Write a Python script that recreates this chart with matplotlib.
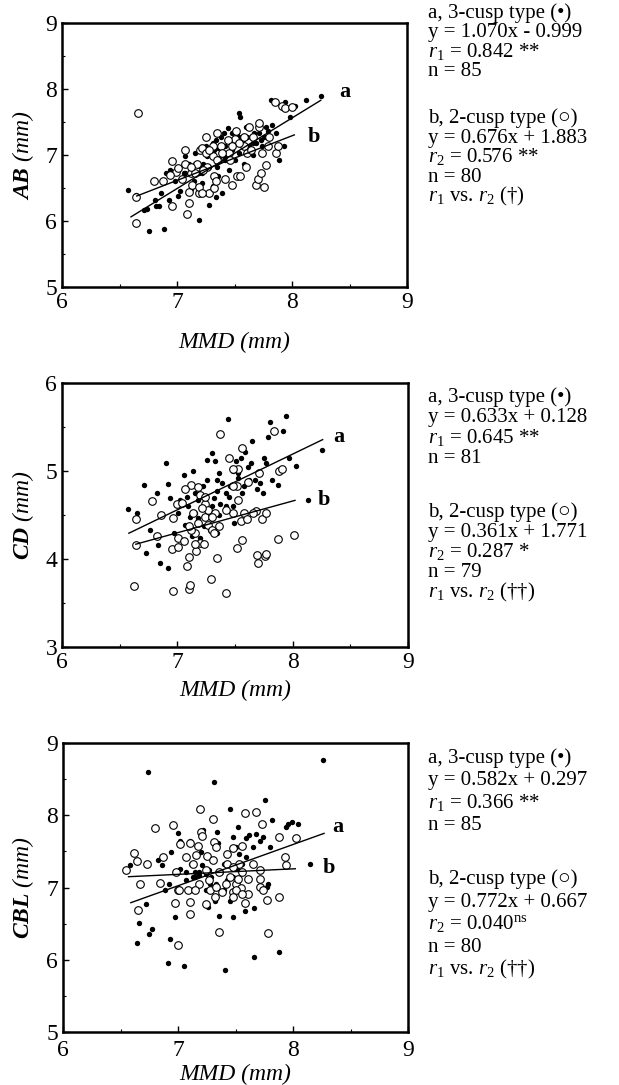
import matplotlib
matplotlib.use("Agg")
import matplotlib.pyplot as plt
import numpy as np

plt.rcParams['font.family'] = ['Liberation Serif', 'DejaVu Serif']
plt.rcParams['mathtext.fontset'] = 'custom'
plt.rcParams['mathtext.rm'] = 'Liberation Serif'
plt.rcParams['mathtext.it'] = 'Liberation Serif:italic'
plt.rcParams['mathtext.bf'] = 'Liberation Serif:italic:bold'

# ---- data (MMD on x) ----
# panel 1: AB
ab_solid_x = [6.57, 6.64, 6.71, 6.74, 6.76, 6.81, 6.82, 6.84, 6.86, 6.89, 6.90, 6.93, 6.94, 6.98, 7.01,
              7.03, 7.06, 7.10, 7.12, 7.13, 7.16, 7.19, 7.20, 7.22, 7.22, 7.23, 7.26, 7.28, 7.31, 7.32,
              7.34, 7.35, 7.36, 7.39, 7.41, 7.42, 7.44, 7.45, 7.47, 7.48, 7.50, 7.51, 7.52, 7.54, 7.55,
              7.54, 7.57, 7.58, 7.60, 7.61, 7.63, 7.64, 7.66, 7.67, 7.69, 7.71, 7.74, 7.76, 7.77, 7.79,
              7.82, 7.83, 7.86, 7.89, 7.93, 7.94, 7.98, 8.03, 8.12, 8.25, 7.36, 7.19, 7.07, 7.28, 7.42,
              7.48, 7.58, 7.34, 7.25, 7.16, 7.31, 7.19, 7.41, 7.54, 7.66, 7.73, 7.07, 7.15, 7.38]
ab_solid_y = [6.47, 6.40, 6.17, 6.18, 5.85, 6.32, 6.22, 6.22, 6.43, 5.88, 6.73, 6.32, 6.78, 6.60, 6.38,
              6.45, 6.72, 6.87, 6.48, 6.78, 6.87, 6.02, 6.42, 6.58, 6.73, 6.87, 6.98, 6.24, 6.53, 7.08,
              6.37, 6.82, 7.11, 6.42, 6.98, 7.13, 7.41, 6.78, 7.23, 7.08, 6.93, 7.18, 7.33, 7.63, 7.58,
              7.03, 7.23, 6.87, 7.43, 7.28, 7.13, 7.28, 7.00, 7.33, 7.18, 7.33, 7.13, 7.28, 7.43, 7.36,
              7.84, 7.46, 7.33, 6.93, 7.13, 7.81, 7.58, 7.74, 7.84, 7.89, 6.68, 6.73, 6.98, 6.82, 6.92,
              7.33, 7.13, 7.23, 7.13, 7.03, 7.18, 6.83, 7.33, 7.28, 7.18, 7.23, 6.73, 6.60, 7.28]
ab_open_x = [6.66, 6.64, 6.64, 6.80, 6.88, 6.96, 6.96, 6.99, 7.01, 7.09, 7.10, 7.12, 7.13, 7.17, 7.19,
             7.20, 7.22, 7.25, 7.26, 7.28, 7.32, 7.32, 7.34, 7.35, 7.36, 7.38, 7.42, 7.45, 7.48, 7.50,
             7.51, 7.52, 7.55, 7.58, 7.61, 7.63, 7.69, 7.70, 7.71, 7.71, 7.73, 7.76, 7.77, 7.80, 7.85,
             7.86, 7.88, 7.91, 7.94, 8.00, 7.16, 7.23, 7.31, 7.39, 7.46, 7.54, 7.66, 7.07, 7.04, 7.19,
             7.44, 7.60, 7.31, 7.12, 7.28, 7.64, 7.79, 6.94, 7.07, 7.48, 7.22, 7.35, 7.58, 7.74, 7.25,
             7.10]
ab_open_y = [7.63, 5.97, 6.36, 6.60, 6.61, 6.91, 6.22, 6.75, 6.81, 6.11, 6.44, 6.73, 6.55, 6.87, 6.42,
             7.08, 7.11, 7.03, 6.82, 6.42, 6.68, 6.50, 6.60, 7.33, 6.92, 7.13, 6.63, 7.03, 6.55, 7.25,
             7.36, 6.68, 6.68, 7.13, 7.03, 7.43, 6.55, 6.63, 7.43, 7.48, 6.73, 6.52, 6.85, 7.28, 7.81,
             7.03, 7.13, 7.74, 7.71, 7.72, 6.73, 6.78, 6.98, 7.03, 6.93, 7.18, 7.28, 6.87, 6.63, 6.52,
             7.23, 6.82, 7.13, 6.82, 7.08, 7.08, 7.13, 6.70, 7.08, 7.13, 6.42, 6.92, 7.28, 7.03, 7.28,
             6.27]

# panel 2: CD
cd_solid_x = [6.57, 6.65, 6.71, 6.73, 6.76, 6.82, 6.83, 6.85, 6.90, 6.92, 6.92, 6.94, 6.97, 7.01, 7.02,
              7.06, 7.07, 7.09, 7.11, 7.13, 7.14, 7.15, 7.18, 7.20, 7.22, 7.24, 7.26, 7.28, 7.30, 7.32,
              7.33, 7.34, 7.34, 7.36, 7.37, 7.39, 7.42, 7.44, 7.45, 7.46, 7.48, 7.49, 7.51, 7.53, 7.55,
              7.56, 7.58, 7.59, 7.61, 7.64, 7.65, 7.67, 7.69, 7.72, 7.74, 7.75, 7.77, 7.79, 7.80, 7.82,
              7.87, 7.92, 7.94, 7.97, 8.03, 8.13, 8.25, 7.23, 7.18, 7.30, 7.26, 7.36, 7.48, 7.53, 7.08,
              7.15, 7.42, 7.62, 7.34, 7.50, 7.30]
cd_solid_y = [4.57, 4.52, 4.84, 4.07, 4.33, 4.75, 4.16, 3.96, 5.09, 4.85, 3.90, 4.69, 4.30, 4.52, 4.67,
              4.96, 4.39, 4.60, 4.48, 4.26, 5.00, 4.75, 4.47, 4.24, 4.83, 4.58, 5.13, 4.33, 5.21, 4.69,
              5.11, 4.90, 4.77, 4.50, 4.62, 4.86, 4.60, 5.59, 4.71, 4.83, 5.00, 4.41, 5.11, 4.92, 5.15,
              4.75, 4.83, 5.22, 5.05, 5.09, 5.34, 4.90, 4.79, 4.86, 4.75, 5.15, 5.09, 5.39, 5.56, 4.90,
              4.84, 5.45, 5.62, 5.15, 5.06, 4.67, 5.24, 4.37, 4.67, 4.45, 4.90, 4.98, 4.60, 4.98, 4.71,
              4.52, 4.75, 4.90, 4.30, 4.83, 4.60]
cd_open_x = [6.62, 6.64, 6.64, 6.78, 6.82, 6.86, 6.95, 6.96, 6.96, 7.00, 7.01, 7.06, 7.08, 7.10, 7.10,
             7.11, 7.12, 7.14, 7.15, 7.16, 7.18, 7.20, 7.20, 7.23, 7.24, 7.27, 7.29, 7.30, 7.32, 7.34,
             7.37, 7.42, 7.45, 7.48, 7.52, 7.52, 7.53, 7.55, 7.56, 7.56, 7.58, 7.61, 7.60, 7.68, 7.69,
             7.70, 7.71, 7.73, 7.76, 7.77, 7.77, 7.84, 7.87, 7.88, 7.91, 8.01, 7.04, 7.07, 7.24, 7.27,
             7.33, 7.18, 7.12, 7.42, 7.24, 7.48, 7.30, 7.21, 7.15, 7.36, 7.66, 7.48, 7.10, 7.53, 7.01]
cd_open_y = [3.69, 4.45, 4.16, 4.66, 4.26, 4.50, 4.11, 3.64, 4.47, 4.62, 4.24, 4.20, 3.92, 4.02, 3.66,
             3.71, 4.84, 4.52, 4.30, 4.09, 4.82, 4.73, 4.18, 4.17, 4.48, 4.39, 3.77, 4.33, 4.30, 4.01,
             5.42, 3.61, 5.15, 4.52, 4.83, 4.13, 5.02, 4.43, 5.26, 4.22, 4.52, 4.88, 4.45, 4.54, 4.04,
             3.95, 4.98, 4.45, 4.03, 4.52, 4.06, 5.46, 4.23, 5.00, 5.02, 4.27, 4.64, 4.79, 4.62, 4.56,
             4.52, 4.41, 4.33, 4.56, 4.70, 4.83, 4.48, 4.58, 4.17, 4.37, 4.52, 5.02, 4.37, 4.67, 4.14]

# panel 3: CBL
cbl_solid_x = [6.58, 6.64, 6.66, 6.72, 6.74, 6.75, 6.77, 6.83, 6.86, 6.89, 6.91, 6.92, 6.93, 6.94, 6.97,
               7.00, 7.02, 7.02, 7.05, 7.07, 7.10, 7.11, 7.13, 7.14, 7.15, 7.18, 7.20, 7.21, 7.22, 7.24,
               7.26, 7.27, 7.28, 7.31, 7.32, 7.33, 7.34, 7.35, 7.36, 7.37, 7.40, 7.41, 7.43, 7.45, 7.45,
               7.48, 7.48, 7.51, 7.52, 7.53, 7.54, 7.56, 7.58, 7.59, 7.62, 7.66, 7.66, 7.68, 7.71, 7.74,
               7.76, 7.77, 7.78, 7.80, 7.82, 7.88, 7.94, 7.96, 7.99, 8.04, 8.15, 8.26, 7.15, 7.18, 7.29,
               7.50, 7.07, 7.40, 7.24, 7.48, 7.59, 7.65]
cbl_solid_y = [7.31, 6.23, 6.51, 6.77, 8.60, 6.35, 6.43, 7.38, 7.31, 6.97, 5.96, 7.05, 6.29, 7.49, 6.59,
               7.75, 7.25, 7.65, 5.92, 7.10, 7.65, 7.33, 7.15, 6.98, 7.21, 7.17, 7.49, 7.31, 7.79, 7.19,
               6.73, 7.24, 7.05, 8.46, 6.82, 7.05, 7.77, 7.61, 6.61, 7.21, 6.96, 5.86, 7.10, 8.09, 6.82,
               7.70, 6.59, 7.26, 7.84, 7.47, 6.96, 7.33, 6.68, 7.68, 7.72, 6.04, 6.71, 7.74, 7.65, 7.70,
               8.21, 7.01, 7.05, 7.56, 7.94, 6.11, 7.84, 7.88, 7.91, 7.88, 7.33, 8.77, 7.15, 7.21, 7.15,
               7.56, 7.21, 7.33, 6.96, 7.15, 7.42, 7.56]
cbl_open_x = [6.55, 6.62, 6.64, 6.65, 6.67, 6.73, 6.80, 6.84, 6.87, 6.96, 6.97, 6.98, 7.00, 7.00, 7.02,
              7.09, 7.10, 7.10, 7.10, 7.16, 7.17, 7.19, 7.20, 7.21, 7.25, 7.27, 7.28, 7.30, 7.31, 7.32,
              7.36, 7.36, 7.38, 7.43, 7.43, 7.48, 7.48, 7.50, 7.52, 7.53, 7.55, 7.56, 7.58, 7.58, 7.61,
              7.68, 7.71, 7.71, 7.71, 7.73, 7.77, 7.78, 7.88, 7.88, 7.93, 7.94, 8.03, 7.18, 7.30, 7.13,
              7.45, 7.50, 7.24, 7.33, 7.07, 7.48, 7.65, 7.24, 7.42, 7.15, 7.56, 7.33, 7.01, 7.48, 7.61,
              7.56, 7.74]
cbl_open_y = [7.24, 7.48, 7.37, 6.69, 7.05, 7.33, 7.83, 7.06, 7.42, 7.87, 6.79, 7.21, 6.97, 6.21, 7.60,
              6.96, 7.61, 6.80, 6.63, 7.45, 7.57, 8.09, 7.77, 7.71, 7.43, 7.10, 6.96, 7.95, 7.63, 6.87,
              7.21, 6.38, 6.94, 7.46, 7.33, 7.55, 6.94, 7.05, 7.12, 7.33, 7.00, 7.57, 8.03, 6.78, 6.91,
              8.05, 7.24, 7.01, 7.12, 7.88, 6.83, 6.37, 7.70, 6.87, 7.42, 7.31, 7.68, 7.05, 7.38, 7.33,
              7.15, 6.96, 6.77, 7.01, 7.42, 7.28, 7.33, 7.24, 7.05, 6.96, 7.21, 7.56, 6.96, 6.87, 7.12,
              6.91, 6.96]

# regression lines as drawn: slope, intercept, x start, x end
ab_fit_a = [1.070, -0.999, 6.60, 8.25]
ab_fit_b = [0.676, 1.883, 6.65, 8.02]
cd_fit_a = [0.633, 0.128, 6.58, 8.26]
cd_fit_b = [0.361, 1.771, 6.64, 8.02]
cbl_fit_a = [0.571, 3.027, 6.59, 8.27]
cbl_fit_b = [0.076, 6.650, 6.57, 8.02]

ab_text_a = ['a, 3-cusp type (•)', 'y = 1.070x - 0.999', r'$r_1$ = 0.842 **', 'n = 85']
ab_text_b = ['b, 2-cusp type (○)', 'y = 0.676x + 1.883', r'$r_2$ = 0.576 **', 'n = 80',
             r'$r_1$ vs. $r_2$ (†)']
cd_text_a = ['a, 3-cusp type (•)', 'y = 0.633x + 0.128', r'$r_1$ = 0.645 **', 'n = 81']
cd_text_b = ['b, 2-cusp type (○)', 'y = 0.361x + 1.771', r'$r_2$ = 0.287 *', 'n = 79',
             r'$r_1$ vs. $r_2$ (††)']
cbl_text_a = ['a, 3-cusp type (•)', 'y = 0.582x + 0.297', r'$r_1$ = 0.366 **', 'n = 85']
cbl_text_b = ['b, 2-cusp type (○)', 'y = 0.772x + 0.667', r'$r_2$ = $0.040^{\rm ns}$', 'n = 80',
              r'$r_1$ vs. $r_2$ (††)']

W, H = 619, 1085
fig = plt.figure(figsize=(W / 100, H / 100), dpi=100)

# left, top, right, bottom in pixels
panels = [
    dict(box=(62, 23, 407, 287), yname='AB', ylim=(5, 9), sx=ab_solid_x, sy=ab_solid_y,
         ox=ab_open_x, oy=ab_open_y, fa=ab_fit_a, fb=ab_fit_b, ta=ab_text_a, tb=ab_text_b,
         la=(8.46, 7.95), lb=(8.19, 7.28), xpad=3.5, xlab_top=332,
         txt=(18, 19.5, 123, 19.7)),
    dict(box=(62, 383, 408, 647), yname='CD', ylim=(3, 6), sx=cd_solid_x, sy=cd_solid_y,
         ox=cd_open_x, oy=cd_open_y, fa=cd_fit_a, fb=cd_fit_b, ta=cd_text_a, tb=cd_text_b,
         la=(8.40, 5.39), lb=(8.27, 4.67), xpad=3.5, xlab_top=680,
         txt=(402, 20.3, 517, 20.0)),
    dict(box=(63, 743, 408, 1032), yname='CBL', ylim=(5, 9), sx=cbl_solid_x, sy=cbl_solid_y,
         ox=cbl_open_x, oy=cbl_open_y, fa=cbl_fit_a, fb=cbl_fit_b, ta=cbl_text_a, tb=cbl_text_b,
         la=(8.39, 7.84), lb=(8.31, 7.27), xpad=6, xlab_top=1064,
         txt=(763, 22.3, 884, 22.5)),
]

for p in panels:
    l, t, r, b = p['box']
    ax = fig.add_axes([l / W, 1 - b / H, (r - l) / W, (b - t) / H])
    ax.scatter(p['sx'], p['sy'], s=15, c='black', linewidths=0, zorder=2)
    ax.scatter(p['ox'], p['oy'], s=30, facecolors='white', edgecolors='black',
               linewidths=0.8, zorder=3)
    for fit in (p['fa'], p['fb']):
        xs = np.array([fit[2], fit[3]])
        ax.plot(xs, fit[0] * xs + fit[1], color='black', lw=1.0, zorder=4)
    ax.text(p['la'][0], p['la'][1], 'a', fontsize=16, fontweight='bold', ha='center', va='center')
    ax.text(p['lb'][0], p['lb'][1], 'b', fontsize=16, fontweight='bold', ha='center', va='center')

    ax.set_xlim(6, 9)
    ax.set_ylim(*p['ylim'])
    ax.set_xticks([6, 7, 8, 9])
    ax.set_yticks(np.arange(p['ylim'][0], p['ylim'][1] + 1))
    ax.set_xticks(np.arange(6.5, 9, 0.5), minor=True)
    ax.set_yticks(np.arange(p['ylim'][0] + 0.5, p['ylim'][1], 0.5), minor=True)
    ax.tick_params(which='both', direction='in', labelsize=17)
    ax.tick_params(which='major', length=4, width=1)
    ax.tick_params(which='minor', length=2.5, width=0.8)
    ax.tick_params(axis='y', pad=3.5)
    ax.tick_params(axis='x', pad=p['xpad'])
    for s in ax.spines.values():
        s.set_linewidth(1.8)

    ax.set_ylabel(r'$\mathbf{' + p['yname'] + '}$ (mm)', fontsize=17, fontstyle='italic',
                  va='center')
    ax.yaxis.set_label_coords((23 - l) / (r - l), 0.5)
    ax.set_xlabel('MMD (mm)', fontsize=17, fontstyle='italic', va='top')
    ax.xaxis.set_label_coords(0.5, -(p['xlab_top'] - b) / (b - t))

    a0, astep, b0, bstep = p['txt']
    for i, line in enumerate(p['ta']):
        fig.text(428 / W, 1 - (a0 + i * astep) / H, line, fontsize=15, va='baseline')
    for i, line in enumerate(p['tb']):
        fig.text(428 / W, 1 - (b0 + i * bstep) / H, line, fontsize=15, va='baseline')

fig.savefig('out.png', dpi=100)
